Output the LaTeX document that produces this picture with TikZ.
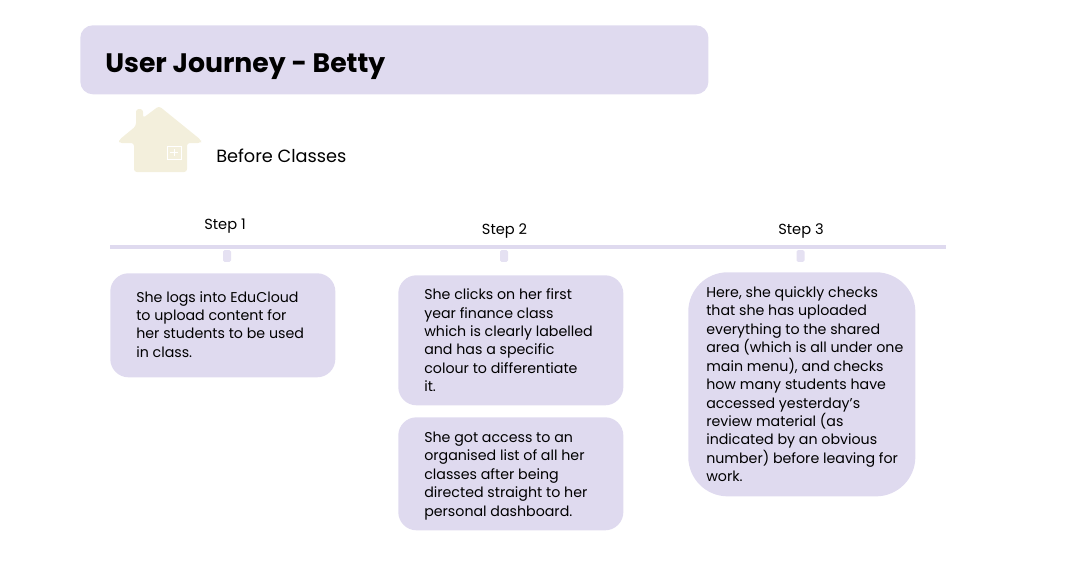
\documentclass[tikz,border=0pt]{standalone}
\usepackage{fontspec}
\setmainfont{Poppins}
\usetikzlibrary{positioning}
\definecolor{lilac}{HTML}{DFDAEF}
\definecolor{cream}{HTML}{F3EFDC}
\begin{document}
\begin{tikzpicture}[
  x=0.025cm, y=-0.025cm,
  card/.style={fill=lilac, rounded corners=#1, anchor=north west, inner sep=0pt},
  cardtext/.style={font=\fontsize{10.1}{13.1}\selectfont, align=left, inner sep=0pt},
  steplabel/.style={font=\fontsize{10.4}{13}\selectfont},
  tick/.style={fill=lilac!80, rounded corners=1pt, minimum width=0.2cm, minimum height=0.29cm, inner sep=0pt}
]
\useasboundingbox (0,0) rectangle (1089,587);

% title bar
\node[card=9pt, minimum width=15.7cm, minimum height=1.725cm] (title) at (80,25) {};
\node[font=\fontsize{19}{23}\selectfont\bfseries, anchor=west, inner sep=0pt] (titletext) at (105,67) {User Journey - Betty};

% house
\fill[cream, rounded corners=2pt] (159,106) -- (201,140) -- (201,143) -- (187,143) -- (187,172) -- (134,172) -- (134,143) -- (119,143) -- (119,140) -- (136,126) -- (136,109) -- (143,109) -- (143,118) -- cycle;
\draw[white, line width=0.5pt] (167,146) rectangle (181,159);
\draw[white, line width=0.5pt] (174,149) -- (174,156) (170,152.5) -- (178,152.5);
\node[font=\fontsize{12.6}{16}\selectfont, anchor=west, inner sep=0pt] (before) at (216,156) {Before Classes};

% timeline
\coordinate (linestart) at (110,247);
\coordinate (lineend) at (946,247);
\draw[lilac, line width=3pt] (linestart) -- (lineend);
\node[tick] (tickA) at (227,256) {};
\node[tick] (tickB) at (504,256) {};
\node[tick] (tickC) at (800.5,256) {};
\node[steplabel] (stepA) at (225,226) {Step 1};
\node[steplabel] (stepB) at (504.5,231) {Step 2};
\node[steplabel] (stepC) at (801,231) {Step 3};

% cards
\node[card=13pt, minimum width=5.625cm, minimum height=2.6cm] (login) at (110,273) {};
\node[cardtext, right=0.65cm of login.west, yshift=0.7pt] (logintext) {She logs into EduCloud\\to upload content for\\her students to be used\\in class.};

\node[card=13pt, minimum width=5.625cm, minimum height=3.25cm] (clicks) at (398,275) {};
\node[cardtext, right=0.65cm of clicks.west] (clickstext) {She clicks on her first\\year finance class\\which is clearly labelled\\and has a specific\\colour to differentiate\\it.};

\node[card=13pt, minimum width=5.625cm, minimum height=2.825cm] (access) at (398,417) {};
\node[cardtext, right=0.65cm of access.west, yshift=-1.4pt] (accesstext) {She got access to an\\organised list of all her\\classes after being\\directed straight to her\\personal dashboard.};

\node[card=28pt, minimum width=5.675cm, minimum height=5.6cm] (checks) at (688,272) {};
\node[cardtext, right=0.45cm of checks.west] (checkstext) {Here, she quickly checks\\that she has uploaded\\everything to the shared\\area (which is all under one\\main menu), and checks\\how many students have\\accessed yesterday’s\\review material (as\\indicated by an obvious\\number) before leaving for\\work.};
\end{tikzpicture}
\end{document}
